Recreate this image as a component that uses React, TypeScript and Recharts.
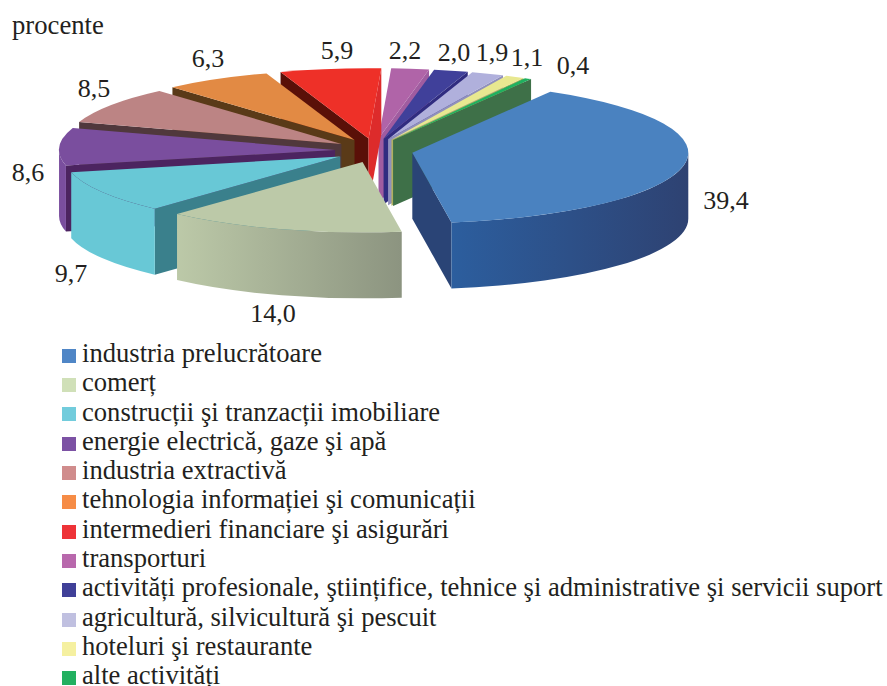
import { Legend, Pie, PieChart } from "recharts";

const categories = [
  "industria prelucrătoare",
  "comerț",
  "construcții şi tranzacții imobiliare",
  "energie electrică, gaze şi apă",
  "industria extractivă",
  "tehnologia informației şi comunicații",
  "intermedieri financiare şi asigurări",
  "transporturi",
  "activități profesionale, ştiințifice, tehnice şi administrative şi servicii suport",
  "agricultură, silvicultură şi pescuit",
  "hoteluri şi restaurante",
  "alte activități",
];
const values = [39.4, 14.0, 9.7, 8.6, 8.5, 6.3, 5.9, 2.2, 2.0, 1.9, 1.1, 0.4];
const valueLabels = ["39,4", "14,0", "9,7", "8,6", "8,5", "6,3", "5,9", "2,2", "2,0", "1,9", "1,1", "0,4"];

const legendColors = ["#4F86C6", "#D0E0B8", "#72CCDC", "#7C52A4", "#D08C8C", "#F68C46", "#EE3338", "#B868AC", "#404098", "#C0C0E0", "#F5F0A0", "#22B060"];
const topColors = ["#4A82C0", "#BCC9A8", "#68C8D6", "#7A4E9E", "#BC8484", "#E28A44", "#EE3028", "#B064A8", "#40409A", "#B0B0DC", "#E8E890", "#1FB060"];
const startWalls = ["#2A4476", "#8C9480", "#3A808C", "#4C2460", "#50383C", "#5A3A18", "#5A1008", "#A05CA0", "#302C80", "#9090BC", "#B0B060", "#3E7048"];
const endWalls = ["#2A4476", "#8C9480", "#3A808C", "#4C2460", "#50383C", "#5A3A18", "#DD2B2B", "#A05CA0", "#302C80", "#9090BC", "#B0B060", "#3E7048"];
const rimLeft = ["#2C5E9E", "#BCC9A8", "#68C8D6", "#7A4E9E"];
const rimRight = ["#2E4272", "#8C9480", "#68C8D6", "#7A4E9E"];

// where the value labels sit around the pie
const labelSpots = [
  [726, 209], [273, 322], [71, 282], [28, 181], [94, 97], [208, 67],
  [337, 59], [405, 59], [454, 61], [492, 61], [527, 66], [573, 74],
];

const FONT = "'Liberation Serif', serif";
const TEXT_COLOR = "#231F20";
const CX = 374;
const CY = 150.5;
const RADIUS = 276;
const TILT = 0.255; // vertical squash of the disc
const DEPTH = 66;
const EXPLODE_X = 39;
const EXPLODE_Y = 12;
const FIRST_ANGLE = 60;

const table = categories.map((name, i) => ({ name, value: values[i], fill: legendColors[i] }));

const rad = (deg: number) => (deg * Math.PI) / 180;

// back slices have to be painted first
const total = values.reduce((a, b) => a + b, 0);
let running = 0;
const depthKey = values.map((v) => {
  const mid = 90 - FIRST_ANGLE + ((running + v / 2) / total) * 360;
  running += v;
  return Math.cos(rad(mid));
});
const drawOrder = values.map((_, i) => i).sort((a, b) => depthKey[b] - depthKey[a]);

function Slice3D(props: any) {
  const { cx, cy, outerRadius, startAngle, endAngle, midAngle, index } = props;
  const b0 = 90 - startAngle;
  const b1 = 90 - endAngle;
  const bm = 90 - midAngle;
  const ox = cx + EXPLODE_X * Math.sin(rad(bm));
  const oy = cy - EXPLODE_Y * Math.cos(rad(bm));
  const ry = outerRadius * TILT;
  const px = (b: number) => ox + outerRadius * Math.sin(rad(b));
  const py = (b: number) => oy - ry * Math.cos(rad(b));

  const top = `M${ox},${oy} L${px(b0)},${py(b0)} A${outerRadius},${ry} 0 0 1 ${px(b1)},${py(b1)} Z`;
  const f0 = Math.max(b0, 90);
  const f1 = Math.min(b1, 270);
  const hasRim = f1 > f0;
  const rim = `M${px(f0)},${py(f0)} A${outerRadius},${ry} 0 0 1 ${px(f1)},${py(f1)} L${px(f1)},${py(f1) + DEPTH} A${outerRadius},${ry} 0 0 0 ${px(f0)},${py(f0) + DEPTH} Z`;
  const wall = (b: number) =>
    `M${ox},${oy} L${px(b)},${py(b)} L${px(b)},${py(b) + DEPTH} L${ox},${oy + DEPTH} Z`;
  const gradId = `rim-${index}`;

  return (
    <g>
      {hasRim && (
        <defs>
          <linearGradient
            id={gradId}
            gradientUnits="userSpaceOnUse"
            x1={Math.min(px(f0), px(f1))}
            x2={Math.max(px(f0), px(f1))}
            y1={0}
            y2={0}
          >
            <stop offset="0%" stopColor={rimLeft[index]} />
            <stop offset="100%" stopColor={rimRight[index]} />
          </linearGradient>
        </defs>
      )}
      {Math.sin(rad(b0)) < 0 && <path d={wall(b0)} fill={startWalls[index]} />}
      {Math.sin(rad(b1)) > 0 && <path d={wall(b1)} fill={endWalls[index]} />}
      {hasRim && <path d={rim} fill={`url(#${gradId})`} />}
      <path d={top} fill={topColors[index]} />
    </g>
  );
}

function ValueLabel(props: any) {
  const [x, y] = labelSpots[props.index];
  return (
    <text x={x} y={y} textAnchor="middle" fontFamily={FONT} fontSize={26} fill={TEXT_COLOR}>
      {valueLabels[props.index]}
    </text>
  );
}

export default function App() {
  return (
    <div style={{ position: "absolute", left: 0, top: 0, width: 887, height: 686, background: "#fff", overflow: "hidden" }}>
      <PieChart width={887} height={686} margin={{ top: 0, right: 0, bottom: 0, left: 0 }}>
        {drawOrder.map((i) => (
          <Pie
            key={i}
            data={table}
            dataKey="value"
            nameKey="name"
            cx={CX}
            cy={CY}
            outerRadius={RADIUS}
            startAngle={FIRST_ANGLE}
            endAngle={FIRST_ANGLE - 360}
            legendType="none"
            stroke="none"
            isAnimationActive={false}
            shape={(p: any) => (p.index === i ? <Slice3D {...p} /> : <g />)}
          />
        ))}
        <Pie
          data={table}
          dataKey="value"
          nameKey="name"
          cx={CX}
          cy={CY}
          outerRadius={RADIUS}
          startAngle={FIRST_ANGLE}
          endAngle={FIRST_ANGLE - 360}
          legendType="square"
          isAnimationActive={false}
          labelLine={false}
          label={ValueLabel}
          shape={() => <g />}
        />
        <text x={12} y={34} fontFamily={FONT} fontSize={26.7} fill={TEXT_COLOR}>
          procente
        </text>
        <Legend
          layout="vertical"
          align="center"
          verticalAlign="middle"
          iconType="square"
          iconSize={14}
          itemSorter={null}
          wrapperStyle={{ left: 62, top: 339, width: 825, fontFamily: FONT, fontSize: 26.6, lineHeight: "29.3px", whiteSpace: "nowrap" }}
          formatter={(value: string) => (
            <span style={{ color: TEXT_COLOR, marginLeft: 2, whiteSpace: "nowrap" }}>{value}</span>
          )}
        />
      </PieChart>
    </div>
  );
}
